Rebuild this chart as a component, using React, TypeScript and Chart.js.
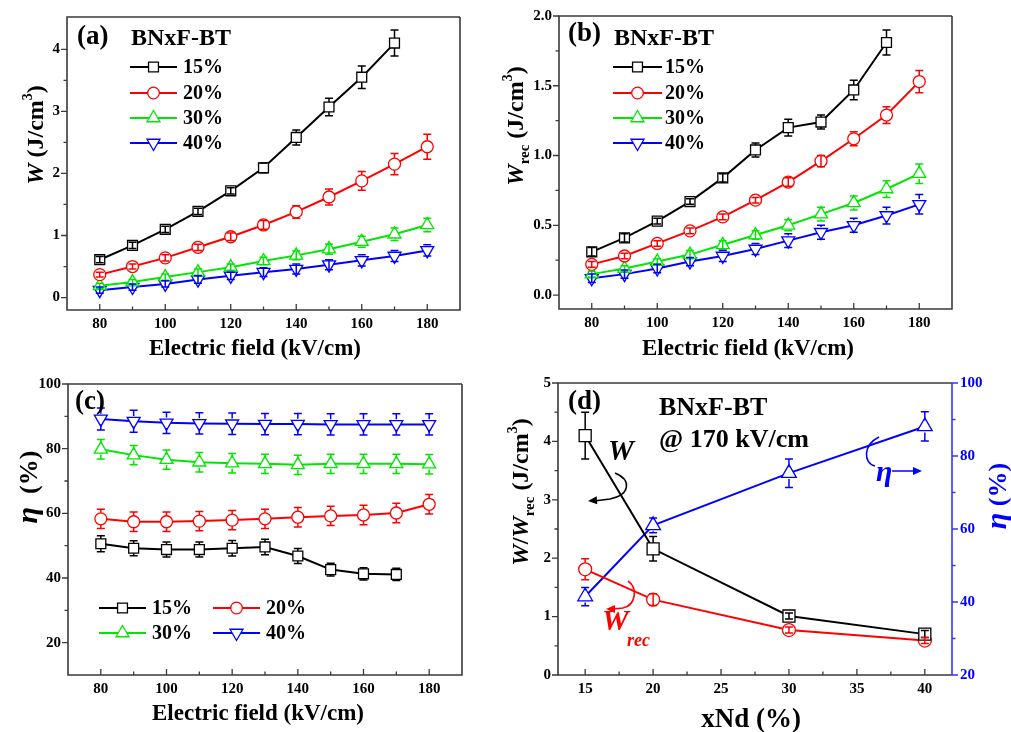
import React, { useEffect, useRef } from 'react';
import { Chart, registerables } from 'chart.js';

Chart.register(...registerables);

const SERIF = '"Liberation Serif", "Times New Roman", serif';

// ---------------- data ----------------
const fields = [80, 90, 100, 110, 120, 130, 140, 150, 160, 170, 180];
const fieldTicks = [80, 100, 120, 140, 160, 180];
const fieldMinor = [90, 110, 130, 150, 170];
const seriesLabels = ['15%', '20%', '30%', '40%'];

// (a) W (J/cm3)
const wA15 = [0.61, 0.84, 1.1, 1.39, 1.72, 2.09, 2.58, 3.07, 3.55, 4.1];
const wA15Err = [0.05, 0.05, 0.05, 0.05, 0.05, 0.08, 0.12, 0.14, 0.18, 0.21];
const wA20 = [0.37, 0.5, 0.64, 0.81, 0.98, 1.17, 1.38, 1.62, 1.88, 2.15, 2.43];
const wA20Err = [0.04, 0.04, 0.05, 0.05, 0.06, 0.07, 0.1, 0.13, 0.15, 0.17, 0.2];
const wA30 = [0.19, 0.25, 0.33, 0.41, 0.49, 0.59, 0.68, 0.78, 0.9, 1.02, 1.17];
const wA30Err = [0.04, 0.04, 0.05, 0.05, 0.05, 0.06, 0.07, 0.08, 0.09, 0.1, 0.11];
const wA40 = [0.12, 0.17, 0.22, 0.29, 0.35, 0.41, 0.46, 0.53, 0.6, 0.67, 0.76];
const wA40Err = [0.05, 0.05, 0.05, 0.06, 0.06, 0.07, 0.08, 0.08, 0.09, 0.09, 0.09];
const wATicks = [0, 1, 2, 3, 4];
const wAMinor = [0.5, 1.5, 2.5, 3.5];

// (b) Wrec (J/cm3)
const wB15 = [0.31, 0.41, 0.53, 0.67, 0.84, 1.04, 1.2, 1.24, 1.47, 1.81];
const wB15Err = [0.03, 0.03, 0.02, 0.02, 0.03, 0.05, 0.06, 0.05, 0.07, 0.09];
const wB20 = [0.22, 0.28, 0.37, 0.46, 0.56, 0.68, 0.81, 0.96, 1.12, 1.29, 1.53];
const wB20Err = [0.02, 0.02, 0.02, 0.02, 0.02, 0.02, 0.03, 0.04, 0.05, 0.06, 0.08];
const wB30 = [0.15, 0.19, 0.24, 0.29, 0.36, 0.43, 0.5, 0.58, 0.66, 0.76, 0.87];
const wB30Err = [0.02, 0.02, 0.02, 0.03, 0.03, 0.03, 0.04, 0.05, 0.05, 0.06, 0.07];
const wB40 = [0.12, 0.15, 0.19, 0.24, 0.28, 0.33, 0.39, 0.45, 0.5, 0.57, 0.65];
const wB40Err = [0.03, 0.03, 0.03, 0.03, 0.04, 0.04, 0.05, 0.05, 0.05, 0.06, 0.07];
const wBTicks = [0, 0.5, 1.0, 1.5, 2.0];
const wBMinor = [0.25, 0.75, 1.25, 1.75];

// (c) efficiency (%)
const etaC15 = [50.6, 49.2, 48.8, 48.8, 49.2, 49.6, 46.8, 42.6, 41.3, 41.1];
const etaC15Err = [2.5, 2.3, 2.3, 2.3, 2.4, 2.4, 2.3, 2.0, 1.9, 1.9];
const etaC20 = [58.3, 57.4, 57.4, 57.6, 57.9, 58.3, 58.8, 59.2, 59.5, 60.1, 62.8];
const etaC20Err = [3, 3, 3, 3, 3, 3, 3, 3, 3, 3, 3];
const etaC30 = [79.8, 78.0, 76.6, 75.8, 75.5, 75.3, 75.0, 75.3, 75.3, 75.3, 75.2];
const etaC30Err = [3, 3, 3, 3, 3, 3, 3, 3, 3, 3, 3];
const etaC40 = [89.2, 88.5, 88.0, 87.8, 87.7, 87.6, 87.6, 87.5, 87.5, 87.5, 87.5];
const etaC40Err = [3.4, 3.4, 3.3, 3.3, 3.3, 3.3, 3.3, 3.3, 3.3, 3.3, 3.3];
const etaCTicks = [20, 40, 60, 80, 100];
const etaCMinor = [30, 50, 70, 90];

// (d) at 170 kV/cm vs xNd
const xNd = [15, 20, 30, 40];
const xNdTicks = [15, 20, 25, 30, 35, 40];
const xNdMinor = [17.5, 22.5, 27.5, 32.5, 37.5];
const wD = [4.1, 2.16, 1.01, 0.7];
const wDErr = [0.4, 0.21, 0.05, 0.06];
const wrecD = [1.81, 1.29, 0.77, 0.59];
const wrecDErr = [0.18, 0.1, 0.05, 0.05];
const etaD = [41.5, 61.0, 75.3, 88.1];
const etaDErr = [2.5, 2.0, 3.9, 4.0];
const wDTicks = [0, 1, 2, 3, 4, 5];
const wDMinor = [0.5, 1.5, 2.5, 3.5, 4.5];
const etaDTicks = [20, 40, 60, 80, 100];
const etaDMinor = [30, 50, 70, 90];

// ---------------- styling ----------------
const BLACK = '#000000';
const RED = '#ff0000';
const GREEN = '#00e600';
const BLUE = '#0000ff';
const AXIS_BLUE = '#3535ff';
const FRAME = '#3a3a3a';
const seriesColors = [BLACK, RED, GREEN, BLUE];
const seriesStyles = ['rect', 'circle', 'tri', 'triDown'];

const font = (size: number, italic = false) =>
  `${italic ? 'italic ' : ''}bold ${size}px ${SERIF}`;

function chartStyle(style: string) {
  if (style === 'tri') return { pointStyle: 'triangle', rot: 0 };
  if (style === 'triDown') return { pointStyle: 'triangle', rot: 180 };
  return { pointStyle: style, rot: 0 };
}

function radiusFor(style: string, big = false) {
  if (style === 'rect') return big ? 8.5 : 7;
  if (style === 'circle') return big ? 6.5 : 6;
  return big ? 8.5 : 7.5;
}

function series(
  label: string,
  xs: number[],
  ys: number[],
  errs: number[],
  color: string,
  style: string,
  big = false,
  yAxisID = 'y'
) {
  const st = chartStyle(style);
  const r = radiusFor(style, big);
  return {
    label,
    data: ys.map((y, i) => ({ x: xs[i], y })),
    errors: errs,
    markerHalf: style === 'rect' ? r * Math.SQRT1_2 : style === 'circle' ? r : r * 0.7,
    borderColor: color,
    backgroundColor: '#ffffff',
    borderWidth: 2,
    pointStyle: st.pointStyle,
    pointRotation: st.rot,
    pointRadius: r,
    pointBorderWidth: 1.3,
    pointBorderColor: color,
    pointBackgroundColor: '#ffffff',
    tension: 0,
    fill: false,
    yAxisID,
  };
}

function drawMarker(ctx: CanvasRenderingContext2D, style: string, x: number, y: number, r: number, color: string) {
  ctx.save();
  ctx.beginPath();
  if (style === 'rect') {
    const s = r * Math.SQRT1_2;
    ctx.rect(x - s, y - s, 2 * s, 2 * s);
  } else if (style === 'circle') {
    ctx.arc(x, y, r, 0, Math.PI * 2);
  } else {
    const d = style === 'tri' ? -1 : 1;
    const w = r * Math.sin(Math.PI / 3);
    ctx.moveTo(x, y + d * r);
    ctx.lineTo(x - w, y - (d * r) / 2);
    ctx.lineTo(x + w, y - (d * r) / 2);
    ctx.closePath();
  }
  ctx.fillStyle = '#ffffff';
  ctx.fill();
  ctx.lineWidth = 1.3;
  ctx.strokeStyle = color;
  ctx.stroke();
  ctx.restore();
}

type Seg = { t: string; size: number; italic?: boolean; dy?: number; color?: string };

function drawRich(ctx: CanvasRenderingContext2D, segs: Seg[], cx: number, cy: number, rot: number, color: string, align: 'center' | 'left' = 'center') {
  ctx.save();
  ctx.translate(cx, cy);
  if (rot) ctx.rotate(rot);
  const widths = segs.map((s) => {
    ctx.font = font(s.size, s.italic);
    return ctx.measureText(s.t).width;
  });
  const total = widths.reduce((a, b) => a + b, 0);
  let x = align === 'center' ? -total / 2 : 0;
  const base = segs[0].size * 0.33;
  ctx.textAlign = 'left';
  ctx.textBaseline = 'alphabetic';
  segs.forEach((s, i) => {
    ctx.font = font(s.size, s.italic);
    ctx.fillStyle = s.color || color;
    ctx.fillText(s.t, x, base + (s.dy || 0));
    x += widths[i];
  });
  ctx.restore();
}

function drawText(ctx: CanvasRenderingContext2D, t: string, x: number, y: number, size: number, color = BLACK, italic = false) {
  ctx.save();
  ctx.font = font(size, italic);
  ctx.fillStyle = color;
  ctx.textAlign = 'left';
  ctx.textBaseline = 'middle';
  ctx.fillText(t, x, y);
  ctx.restore();
}

function drawLegendEntry(ctx: CanvasRenderingContext2D, x1: number, x2: number, y: number, color: string, style: string, label: string, textX: number) {
  ctx.save();
  ctx.strokeStyle = color;
  ctx.lineWidth = 2;
  ctx.beginPath();
  ctx.moveTo(x1, y);
  ctx.lineTo(x2, y);
  ctx.stroke();
  ctx.restore();
  drawMarker(ctx, style, (x1 + x2) / 2, y, style === 'rect' ? 7 : style === 'circle' ? 5.8 : 7.5, color);
  drawText(ctx, label, textX, y + 1, 20);
}

function arrowHead(ctx: CanvasRenderingContext2D, fx: number, fy: number, tx: number, ty: number, color: string) {
  const a = Math.atan2(ty - fy, tx - fx);
  const L = 9;
  const W = 4;
  ctx.save();
  ctx.fillStyle = color;
  ctx.beginPath();
  ctx.moveTo(tx, ty);
  ctx.lineTo(tx - L * Math.cos(a) + W * Math.sin(a), ty - L * Math.sin(a) - W * Math.cos(a));
  ctx.lineTo(tx - L * Math.cos(a) - W * Math.sin(a), ty - L * Math.sin(a) + W * Math.cos(a));
  ctx.closePath();
  ctx.fill();
  ctx.restore();
}

// ---------------- plugins ----------------
const errorBarPlugin = {
  id: 'errorBars',
  afterDatasetsDraw(chart: any) {
    const ctx = chart.ctx as CanvasRenderingContext2D;
    chart.data.datasets.forEach((ds: any, i: number) => {
      if (!ds.errors) return;
      const meta = chart.getDatasetMeta(i);
      const ys = chart.scales[ds.yAxisID || 'y'];
      ctx.save();
      ctx.strokeStyle = ds.borderColor;
      ctx.lineWidth = 1.5;
      meta.data.forEach((el: any, j: number) => {
        const v = ds.data[j].y;
        const e = ds.errors[j];
        const x = el.x;
        const y = el.y;
        const top = ys.getPixelForValue(v + e);
        const bot = ys.getPixelForValue(v - e);
        const h = ds.markerHalf;
        ctx.beginPath();
        if (y - top > h) {
          ctx.moveTo(x, y - h);
          ctx.lineTo(x, top);
          ctx.moveTo(x, y + h);
          ctx.lineTo(x, bot);
        } else {
          ctx.moveTo(x, top);
          ctx.lineTo(x, bot);
        }
        ctx.moveTo(x - 4, top);
        ctx.lineTo(x + 4, top);
        ctx.moveTo(x - 4, bot);
        ctx.lineTo(x + 4, bot);
        ctx.stroke();
      });
      ctx.restore();
    });
  },
};

function drawTicks(ctx: CanvasRenderingContext2D, scale: any, majors: number[], minors: number[], dir: 'up' | 'left' | 'right', base: number, color: string) {
  ctx.save();
  ctx.strokeStyle = color;
  ctx.lineWidth = 1.3;
  ctx.beginPath();
  const mk = (v: number, len: number) => {
    const p = scale.getPixelForValue(v);
    if (dir === 'up') {
      ctx.moveTo(p, base);
      ctx.lineTo(p, base - len);
    } else if (dir === 'left') {
      ctx.moveTo(base, p);
      ctx.lineTo(base - len, p);
    } else {
      ctx.moveTo(base, p);
      ctx.lineTo(base + len, p);
    }
  };
  majors.forEach((v) => mk(v, 6));
  minors.forEach((v) => mk(v, 3.5));
  ctx.stroke();
  ctx.restore();
}

function framePlugin(opts: {
  xMaj: number[]; xMin: number[]; yMaj: number[]; yMin: number[];
  y2Maj?: number[]; y2Min?: number[];
  decorate: (ctx: CanvasRenderingContext2D, a: any, chart: any) => void;
}) {
  return {
    id: 'frameDecor',
    afterDraw(chart: any) {
      const ctx = chart.ctx as CanvasRenderingContext2D;
      const a = chart.chartArea;
      ctx.save();
      ctx.strokeStyle = FRAME;
      ctx.lineWidth = 1.6;
      ctx.beginPath();
      ctx.moveTo(a.right, a.top);
      ctx.lineTo(a.left, a.top);
      ctx.lineTo(a.left, a.bottom);
      ctx.lineTo(a.right, a.bottom);
      if (!opts.y2Maj) ctx.lineTo(a.right, a.top);
      ctx.stroke();
      if (opts.y2Maj) {
        ctx.strokeStyle = AXIS_BLUE;
        ctx.beginPath();
        ctx.moveTo(a.right, a.top);
        ctx.lineTo(a.right, a.bottom);
        ctx.stroke();
      }
      ctx.restore();
      drawTicks(ctx, chart.scales.x, opts.xMaj, opts.xMin, 'up', a.bottom, FRAME);
      drawTicks(ctx, chart.scales.y, opts.yMaj, opts.yMin, 'left', a.left, FRAME);
      if (opts.y2Maj) drawTicks(ctx, chart.scales.y2, opts.y2Maj, opts.y2Min || [], 'right', a.right, AXIS_BLUE);
      opts.decorate(ctx, a, chart);
    },
  };
}

function scaleCfg(
  axis: 'x' | 'y',
  min: number,
  max: number,
  ticks: number[],
  size: number,
  fmt: (v: number) => string,
  padding: number,
  position: string,
  color = BLACK
) {
  return {
    type: 'linear',
    position,
    min,
    max,
    grid: { display: false, drawTicks: false },
    border: { display: false },
    ticks: {
      font: { family: SERIF, size: 15, weight: 'bold' },
      color,
      padding,
      autoSkip: false,
      maxRotation: 0,
      callback: (v: any) => fmt(Number(v)),
    },
    afterBuildTicks: (s: any) => {
      s.ticks = ticks.map((v) => ({ value: v }));
    },
    afterFit: (s: any) => {
      if (axis === 'x') s.height = size;
      else s.width = size;
    },
  };
}

const intFmt = (v: number) => String(Math.round(v));
const oneFmt = (v: number) => v.toFixed(1);

function baseOptions(padTop: number, padRight: number, scales: any) {
  return {
    responsive: false,
    animation: false,
    devicePixelRatio: 1,
    layout: { padding: { top: padTop, right: padRight, left: 0, bottom: 0 } },
    plugins: { legend: { display: false }, title: { display: false }, tooltip: { enabled: false } },
    events: [],
    scales,
  };
}

function fieldSeries(vals: number[][], errs: number[][]) {
  return vals.map((v, i) => series(seriesLabels[i], fields, v, errs[i], seriesColors[i], seriesStyles[i]));
}

// ---------------- panel configs ----------------
type PanelDef = { left: number; top: number; w: number; h: number; build: () => any };

const panels: PanelDef[] = [
  {
    left: 0, top: 0, w: 505, h: 360,
    build: () => ({
      type: 'line',
      data: { datasets: fieldSeries([wA15, wA20, wA30, wA40], [wA15Err, wA20Err, wA30Err, wA40Err]) },
      options: baseOptions(17, 45, {
        x: scaleCfg('x', 70, 190, fieldTicks, 50, intFmt, 5, 'bottom'),
        y: scaleCfg('y', -0.2, 4.52, wATicks, 67, intFmt, 7, 'left'),
      }),
      plugins: [
        errorBarPlugin,
        framePlugin({
          xMaj: fieldTicks, xMin: fieldMinor, yMaj: wATicks, yMin: wAMinor,
          decorate: (ctx, a) => {
            drawText(ctx, '(a)', a.left + 10, a.top + 20, 27);
            drawText(ctx, 'BNxF-BT', a.left + 64, a.top + 22, 24);
            [50, 76, 101, 126].forEach((dy, i) =>
              drawLegendEntry(ctx, a.left + 63, a.left + 110, a.top + dy, seriesColors[i], seriesStyles[i], seriesLabels[i], a.left + 116)
            );
            drawRich(ctx, [{ t: 'W', size: 24, italic: true }, { t: ' (J/cm', size: 24 }, { t: '3', size: 14, dy: -11 }, { t: ')', size: 24 }], 35, 135, -Math.PI / 2, BLACK);
            drawRich(ctx, [{ t: 'Electric field (kV/cm)', size: 23 }], 255, 347, 0, BLACK);
          },
        }),
      ],
    }),
  },
  {
    left: 490, top: 0, w: 521, h: 360,
    build: () => ({
      type: 'line',
      data: { datasets: fieldSeries([wB15, wB20, wB30, wB40], [wB15Err, wB20Err, wB30Err, wB40Err]) },
      options: baseOptions(16, 59, {
        x: scaleCfg('x', 70, 190, fieldTicks, 51, intFmt, 5, 'bottom'),
        y: scaleCfg('y', -0.1, 2.0, wBTicks, 69, oneFmt, 7, 'left'),
      }),
      plugins: [
        errorBarPlugin,
        framePlugin({
          xMaj: fieldTicks, xMin: fieldMinor, yMaj: wBTicks, yMin: wBMinor,
          decorate: (ctx, a) => {
            drawText(ctx, '(b)', a.left + 9, a.top + 18, 27);
            drawText(ctx, 'BNxF-BT', a.left + 55, a.top + 23, 24);
            [51, 77, 102, 127].forEach((dy, i) =>
              drawLegendEntry(ctx, a.left + 54, a.left + 103, a.top + dy, seriesColors[i], seriesStyles[i], seriesLabels[i], a.left + 106)
            );
            drawRich(ctx, [{ t: 'W', size: 24, italic: true }, { t: 'rec', size: 15, dy: 6 }, { t: ' (J/cm', size: 24 }, { t: '3', size: 14, dy: -11 }, { t: ')', size: 24 }], 25, 126, -Math.PI / 2, BLACK);
            drawRich(ctx, [{ t: 'Electric field (kV/cm)', size: 23 }], 258, 347, 0, BLACK);
          },
        }),
      ],
    }),
  },
  {
    left: 0, top: 360, w: 505, h: 372,
    build: () => ({
      type: 'line',
      data: { datasets: fieldSeries([etaC15, etaC20, etaC30, etaC40], [etaC15Err, etaC20Err, etaC30Err, etaC40Err]) },
      options: baseOptions(24, 43, {
        x: scaleCfg('x', 70, 190, fieldTicks, 57, intFmt, 5, 'bottom'),
        y: scaleCfg('y', 10, 100, etaCTicks, 68, intFmt, 7, 'left'),
      }),
      plugins: [
        errorBarPlugin,
        framePlugin({
          xMaj: fieldTicks, xMin: fieldMinor, yMaj: etaCTicks, yMin: etaCMinor,
          decorate: (ctx, a) => {
            drawText(ctx, '(c)', a.left + 7, a.top + 18, 27);
            const cols = [31, 145];
            const rows = [224, 249];
            seriesLabels.forEach((lab, i) => {
              const cx = cols[i % 2];
              const ry = rows[Math.floor(i / 2)];
              drawLegendEntry(ctx, a.left + cx, a.left + cx + 47, a.top + ry, seriesColors[i], seriesStyles[i], lab, a.left + cx + 53);
            });
            drawRich(ctx, [{ t: 'η', size: 30, italic: true }, { t: '  (%)', size: 26 }], 27, 127, -Math.PI / 2, BLACK);
            drawRich(ctx, [{ t: 'Electric field (kV/cm)', size: 23 }], 258, 352, 0, BLACK);
          },
        }),
      ],
    }),
  },
  {
    left: 490, top: 360, w: 521, h: 372,
    build: () => ({
      type: 'line',
      data: {
        datasets: [
          series('W', xNd, wD, wDErr, BLACK, 'rect', true, 'y'),
          series('Wrec', xNd, wrecD, wrecDErr, RED, 'circle', true, 'y'),
          series('eta', xNd, etaD, etaDErr, BLUE, 'tri', true, 'y2'),
        ],
      },
      options: baseOptions(23, 0, {
        x: scaleCfg('x', 13, 42, xNdTicks, 57, intFmt, 5, 'bottom'),
        y: scaleCfg('y', 0, 5, wDTicks, 68, intFmt, 7, 'left'),
        y2: scaleCfg('y', 20, 100, etaDTicks, 59, intFmt, 8, 'right', BLUE),
      }),
      plugins: [
        errorBarPlugin,
        framePlugin({
          xMaj: xNdTicks, xMin: xNdMinor, yMaj: wDTicks, yMin: wDMinor, y2Maj: etaDTicks, y2Min: etaDMinor,
          decorate: (ctx, a) => {
            const L = a.left;
            const T = a.top;
            drawText(ctx, '(d)', L + 10, T + 19, 27);
            drawText(ctx, 'BNxF-BT', L + 101, T + 25, 26);
            drawText(ctx, '@ 170 kV/cm', L + 101, T + 57, 26);
            // W label + arrow
            drawText(ctx, 'W', L + 50, T + 70, 29, BLACK, true);
            ctx.save();
            ctx.strokeStyle = BLACK;
            ctx.lineWidth = 1.5;
            ctx.beginPath();
            ctx.moveTo(L + 57, T + 90);
            ctx.bezierCurveTo(L + 74, T + 97, L + 72, T + 112, L + 52, T + 116);
            ctx.lineTo(L + 36, T + 118);
            ctx.stroke();
            ctx.restore();
            arrowHead(ctx, L + 44, T + 117, L + 30, T + 118, BLACK);
            // Wrec label + arrow
            drawText(ctx, 'W', L + 44, T + 239, 30, RED, true);
            drawText(ctx, 'rec', L + 69, T + 258, 18, RED, true);
            ctx.save();
            ctx.strokeStyle = RED;
            ctx.lineWidth = 1.6;
            ctx.beginPath();
            ctx.moveTo(L + 70, T + 198);
            ctx.bezierCurveTo(L + 80, T + 205, L + 78, T + 222, L + 65, T + 225);
            ctx.lineTo(L + 55, T + 226);
            ctx.stroke();
            ctx.restore();
            arrowHead(ctx, L + 62, T + 226, L + 48, T + 226, RED);
            // eta label + arrow
            drawText(ctx, 'η', L + 318, T + 90, 30, BLUE, true);
            ctx.save();
            ctx.strokeStyle = BLUE;
            ctx.lineWidth = 1.6;
            ctx.beginPath();
            ctx.moveTo(L + 321, T + 54);
            ctx.bezierCurveTo(L + 305, T + 62, L + 305, T + 80, L + 317, T + 83);
            ctx.moveTo(L + 334, T + 88);
            ctx.lineTo(L + 356, T + 88);
            ctx.stroke();
            ctx.restore();
            arrowHead(ctx, L + 350, T + 88, L + 364, T + 88, BLUE);
            // axis titles
            drawRich(ctx, [
              { t: 'W', size: 24, italic: true },
              { t: '/', size: 24 },
              { t: 'W', size: 24, italic: true },
              { t: 'rec', size: 15, dy: 6 },
              { t: ' (J/cm', size: 24 },
              { t: '3', size: 14, dy: -11 },
              { t: ')', size: 24 },
            ], 30, 132, -Math.PI / 2, BLACK);
            drawRich(ctx, [{ t: 'η', size: 30, italic: true }, { t: ' (%)', size: 26 }], 506, 136, -Math.PI / 2, BLUE);
            drawRich(ctx, [{ t: 'xNd (%)', size: 27 }], 261, 358, 0, BLACK);
          },
        }),
      ],
    }),
  },
];

function Panel({ def }: { def: PanelDef }) {
  const ref = useRef<HTMLCanvasElement>(null);
  useEffect(() => {
    const chart = new Chart(ref.current as HTMLCanvasElement, def.build());
    return () => chart.destroy();
  }, [def]);
  return (
    <canvas
      ref={ref}
      width={def.w}
      height={def.h}
      style={{ position: 'absolute', left: def.left, top: def.top, width: def.w, height: def.h }}
    />
  );
}

export default function App() {
  return (
    <div style={{ position: 'absolute', left: 0, top: 0, width: 1011, height: 732, background: '#ffffff', overflow: 'hidden' }}>
      {panels.map((p, i) => (
        <Panel key={i} def={p} />
      ))}
    </div>
  );
}
